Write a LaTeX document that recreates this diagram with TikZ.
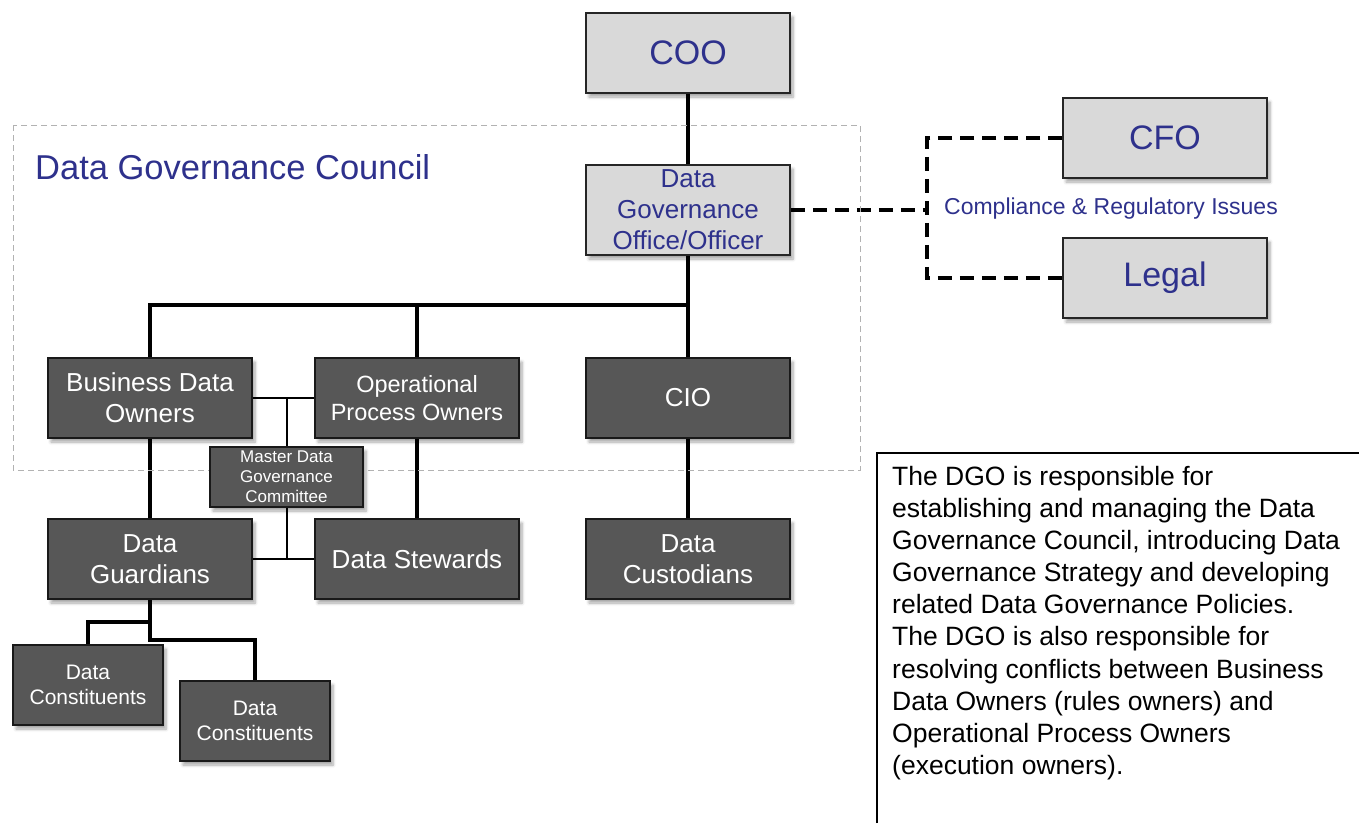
\documentclass[tikz,border=0pt]{standalone}
\usepackage{fontspec}
\setmainfont{Liberation Sans}
\usetikzlibrary{shadows.blur,backgrounds}
\definecolor{navy}{RGB}{46,49,140}
\definecolor{lightfill}{RGB}{217,217,217}
\definecolor{darkfill}{RGB}{87,87,87}
\tikzset{
  boxshadow/.style={blur shadow={shadow xshift=3pt,shadow yshift=-4pt,shadow blur steps=6,shadow blur radius=3pt,shadow opacity=35}},
  lightbox/.style={draw=black!85,line width=1.5pt,fill=lightfill,text=navy,inner sep=0pt,
    minimum width=204pt,minimum height=80pt,align=center,boxshadow},
  darkbox/.style={draw=black!90,line width=1.5pt,fill=darkfill,text=white,inner sep=0pt,
    minimum width=204pt,minimum height=80pt,align=center,boxshadow},
  thickline/.style={line width=4pt,black},
  thinline/.style={line width=2pt,black},
  dashline/.style={line width=4pt,black,dash pattern=on 14pt off 8pt},
  councilline/.style={line width=1pt,black!30,dash pattern=on 6pt off 4pt},
  bigfont/.style={font=\fontsize{34}{40}\selectfont},
  midfont/.style={font=\fontsize{26}{31}\selectfont},
}
\begin{document}
\begin{tikzpicture}[x=1pt,y=-1pt]
\useasboundingbox (0,0) rectangle (1359,823);
\clip (0,0) rectangle (1359,823);

% council frame
\draw[councilline] (13,125) rectangle (860,470);
\node[anchor=west,text=navy,font=\fontsize{34.5}{40}\selectfont,inner sep=0pt] (council) at (35,167) {Data Governance Council};

% nodes
\node[lightbox,bigfont] (coo) at (688,53) {COO};
\node[lightbox,midfont,minimum height=90pt] (dgo) at (688,210) {Data\\Governance\\Office/Officer};
\node[lightbox,bigfont] (cfo) at (1165,138) {CFO};
\node[lightbox,bigfont] (legal) at (1165,278) {Legal};
\node[text=navy,font=\fontsize{23}{27}\selectfont,inner sep=0pt] (comp) at (1111,209) {Compliance \& Regulatory Issues};

\node[darkbox,midfont] (bdo) at (150,398) {Business Data\\Owners};
\node[darkbox,font=\fontsize{23.5}{28}\selectfont] (opo) at (417,398) {Operational\\Process Owners};
\node[darkbox,midfont] (cio) at (688,398) {CIO};
\node[darkbox,font=\fontsize{17}{20}\selectfont,minimum width=153pt,minimum height=60pt] (mdgc) at (286.5,477) {Master Data\\Governance\\Committee};
\node[darkbox,midfont] (dg) at (150,559) {Data\\Guardians};
\node[darkbox,midfont] (ds) at (417,559) {Data Stewards};
\node[darkbox,midfont] (dcu) at (688,559) {Data\\Custodians};
\node[darkbox,font=\fontsize{21}{25}\selectfont,minimum width=150pt] (dc1) at (88,685) {Data\\Constituents};
\node[darkbox,font=\fontsize{21}{25}\selectfont,minimum width=150pt] (dc2) at (255,721) {Data\\Constituents};

% coordinates
\coordinate (bus) at (688,305);
\coordinate (dj) at (927,210);
\coordinate (j1) at (150,622);
\coordinate (j2) at (150,640);

\begin{scope}[on background layer]
\draw[thickline] (coo.south) -- (dgo.north);
\draw[thickline] (dgo.south) -- (cio.north);
\draw[thickline] (bdo.north) |- (bus);
\draw[thickline] (opo.north) -- (opo.north |- bus);
\draw[thickline] (bdo.south) -- (dg.north);
\draw[thickline] (opo.south) -- (ds.north);
\draw[thickline] (cio.south) -- (dcu.north);
\draw[thickline] (dg.south) -- (j2) -| (dc2.north);
\draw[thickline] (j1) -| (dc1.north);
\draw[thinline] (bdo.east) -- (opo.west);
\draw[thinline] (mdgc.north) -- (mdgc.north |- bdo.east);
\draw[thinline] (mdgc.south) -- (mdgc.south |- dg.east);
\draw[thinline] (dg.east) -- (ds.west);
\draw[dashline] (dgo.east) -- (dj);
\draw[dashline] (cfo.west) -| (dj) |- (legal.west);
\end{scope}

% text box
\draw[line width=1.5pt,black] (877,823) -- (877,453) -- (1365,453);
\node[anchor=north west,inner sep=0pt,align=left,font=\fontsize{26.5}{32.1}\selectfont] (note) at (892,466)
{The DGO is responsible for\\
establishing and managing the Data\\
Governance Council, introducing Data\\
Governance Strategy and developing\\
related Data Governance Policies.\\
The DGO is also responsible for\\
resolving conflicts between Business\\
Data Owners (rules owners) and\\
Operational Process Owners\\
(execution owners).};
\end{tikzpicture}
\end{document}
